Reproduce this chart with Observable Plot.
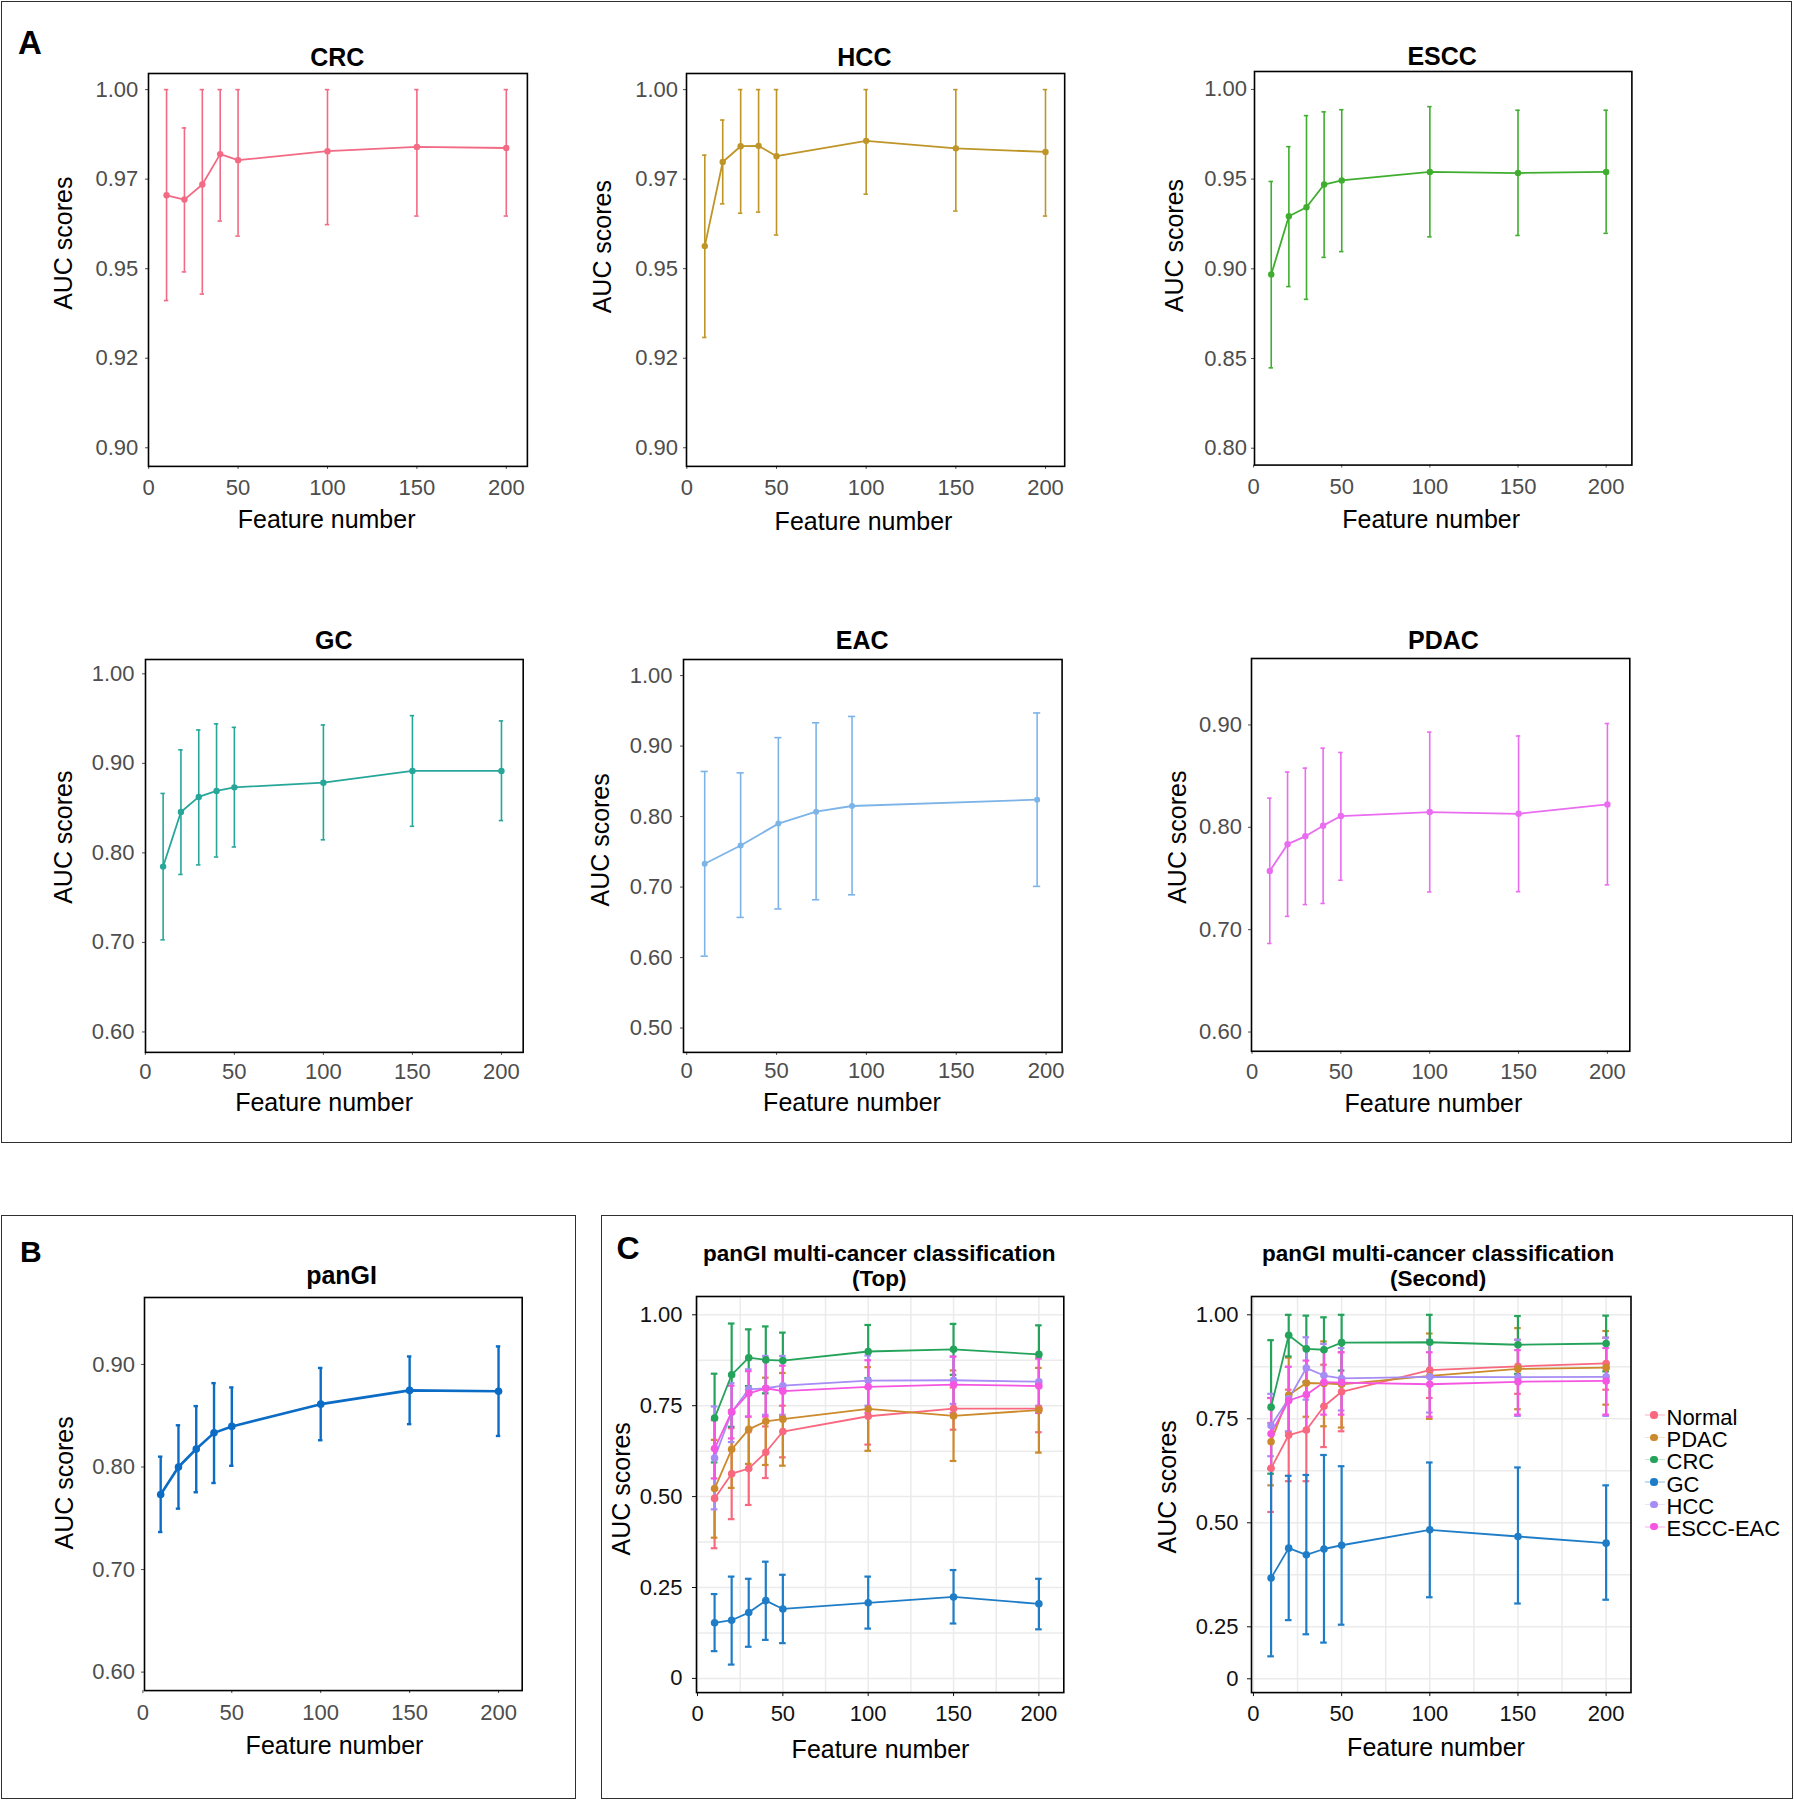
<!DOCTYPE html>
<html><head><meta charset="utf-8">
<script src="https://cdn.jsdelivr.net/npm/d3@7"></script>
<script src="https://cdn.jsdelivr.net/npm/@observablehq/plot@0.6"></script>
<style>
html,body{margin:0;padding:0;background:#fff;}
#root{position:relative;width:1794px;height:1800px;overflow:hidden;font-family:"Liberation Sans",Arial,Helvetica,sans-serif;}
.box{position:absolute;border:1.6px solid #303030;box-sizing:border-box;}
.letter{position:absolute;font-weight:bold;line-height:1;color:#000;}
.pw{position:absolute;}
.pw svg{display:block;overflow:visible;}
.leg{position:absolute;font-size:22px;line-height:21px;height:21px;color:#000;white-space:nowrap;}
</style></head><body><div id="root"></div>
<script>
// ---------------- DATA ----------------
const featureNumber = [10, 20, 30, 40, 50, 100, 150, 200];
const eacFeatureNumber = [10, 30, 51, 72, 92, 195];

const crcMean  = [0.9705, 0.9693, 0.9735, 0.9820, 0.9803, 0.9828, 0.9840, 0.9837];
const crcLower = [0.9411, 0.9491, 0.9429, 0.9633, 0.9591, 0.9623, 0.9647, 0.9647];
const crcUpper = [1.0000, 0.9893, 1.0000, 1.0000, 1.0000, 1.0000, 1.0000, 1.0000];

const hccMean  = [0.9563, 0.9798, 0.9842, 0.9843, 0.9814, 0.9857, 0.9836, 0.9826];
const hccLower = [0.9308, 0.9681, 0.9655, 0.9658, 0.9594, 0.9708, 0.9661, 0.9647];
const hccUpper = [0.9817, 0.9915, 1.0000, 1.0000, 1.0000, 1.0000, 1.0000, 1.0000];

const esccMean  = [0.8969, 0.9293, 0.9343, 0.9470, 0.9493, 0.9540, 0.9534, 0.9540];
const esccLower = [0.8448, 0.8901, 0.8830, 0.9064, 0.9096, 0.9178, 0.9186, 0.9198];
const esccUpper = [0.9487, 0.9681, 0.9854, 0.9875, 0.9887, 0.9904, 0.9884, 0.9884];

const gcMean  = [0.7847, 0.8457, 0.8625, 0.8692, 0.8732, 0.8784, 0.8915, 0.8915];
const gcLower = [0.7029, 0.7759, 0.7866, 0.7954, 0.8066, 0.8146, 0.8297, 0.8361];
const gcUpper = [0.8664, 0.9151, 0.9373, 0.9441, 0.9402, 0.9429, 0.9533, 0.9474];

const eacMean  = [0.733, 0.759, 0.790, 0.807, 0.815, 0.824];
const eacLower = [0.602, 0.657, 0.669, 0.682, 0.689, 0.701];
const eacUpper = [0.864, 0.862, 0.912, 0.933, 0.942, 0.947];

const pdacMean  = [0.7574, 0.7835, 0.7912, 0.8016, 0.8110, 0.8149, 0.8132, 0.8223];
const pdacLower = [0.6865, 0.7130, 0.7245, 0.7256, 0.7483, 0.7368, 0.7371, 0.7438];
const pdacUpper = [0.8285, 0.8540, 0.8578, 0.8773, 0.8731, 0.8930, 0.8892, 0.9014];

const panGIMean  = [0.7732, 0.8000, 0.8176, 0.8333, 0.8396, 0.8613, 0.8747, 0.8739];
const panGILower = [0.7366, 0.7594, 0.7754, 0.7844, 0.8012, 0.8261, 0.8418, 0.8303];
const panGIUpper = [0.8101, 0.8407, 0.8594, 0.8818, 0.8776, 0.8966, 0.9078, 0.9176];

const classNames = ["Normal", "PDAC", "CRC", "GC", "HCC", "ESCC-EAC"];

// C (Top)
const topNormalMean  = [0.495, 0.563, 0.577, 0.622, 0.679, 0.721, 0.742, 0.742];
const topNormalLower = [0.358, 0.438, 0.477, 0.551, 0.608, 0.643, 0.684, 0.677];
const topNormalUpper = [0.632, 0.688, 0.677, 0.693, 0.750, 0.800, 0.800, 0.807];
const topPdacMean  = [0.522, 0.630, 0.685, 0.707, 0.713, 0.741, 0.722, 0.738];
const topPdacLower = [0.387, 0.524, 0.590, 0.587, 0.585, 0.626, 0.598, 0.621];
const topPdacUpper = [0.656, 0.737, 0.780, 0.827, 0.840, 0.856, 0.847, 0.854];
const topCrcMean  = [0.716, 0.835, 0.882, 0.876, 0.874, 0.899, 0.905, 0.891];
const topCrcLower = [0.594, 0.692, 0.804, 0.784, 0.796, 0.826, 0.835, 0.810];
const topCrcUpper = [0.838, 0.976, 0.960, 0.968, 0.951, 0.972, 0.975, 0.971];
const topGcMean  = [0.153, 0.160, 0.181, 0.214, 0.191, 0.208, 0.224, 0.205];
const topGcLower = [0.075, 0.038, 0.087, 0.106, 0.097, 0.137, 0.151, 0.135];
const topGcUpper = [0.232, 0.280, 0.274, 0.321, 0.285, 0.280, 0.298, 0.274];
const topHccMean  = [0.606, 0.732, 0.795, 0.798, 0.805, 0.819, 0.820, 0.816];
const topHccLower = [0.465, 0.650, 0.720, 0.725, 0.725, 0.750, 0.755, 0.750];
const topHccUpper = [0.748, 0.812, 0.850, 0.887, 0.887, 0.888, 0.885, 0.880];
const topEsccEacMean  = [0.632, 0.733, 0.784, 0.798, 0.790, 0.802, 0.808, 0.804];
const topEsccEacLower = [0.550, 0.660, 0.720, 0.720, 0.720, 0.730, 0.730, 0.730];
const topEsccEacUpper = [0.710, 0.805, 0.845, 0.875, 0.860, 0.875, 0.885, 0.880];

// C (Second)
const secNormalMean  = [0.631, 0.711, 0.723, 0.780, 0.815, 0.867, 0.876, 0.883];
const secNormalLower = [0.526, 0.600, 0.600, 0.682, 0.720, 0.800, 0.810, 0.820];
const secNormalUpper = [0.740, 0.820, 0.840, 0.880, 0.910, 0.935, 0.940, 0.945];
const secPdacMean  = [0.695, 0.807, 0.836, 0.835, 0.833, 0.853, 0.870, 0.873];
const secPdacLower = [0.590, 0.718, 0.755, 0.732, 0.729, 0.750, 0.773, 0.784];
const secPdacUpper = [0.800, 0.897, 0.920, 0.936, 0.935, 0.955, 0.968, 0.961];
const secCrcMean  = [0.778, 0.951, 0.918, 0.916, 0.933, 0.934, 0.928, 0.931];
const secCrcLower = [0.618, 0.900, 0.838, 0.837, 0.866, 0.868, 0.858, 0.864];
const secCrcUpper = [0.939, 1.000, 0.998, 0.994, 1.000, 1.000, 0.997, 0.998];
const secGcMean  = [0.367, 0.439, 0.423, 0.437, 0.446, 0.483, 0.467, 0.451];
const secGcLower = [0.179, 0.266, 0.232, 0.212, 0.255, 0.321, 0.306, 0.315];
const secGcUpper = [0.631, 0.613, 0.615, 0.663, 0.636, 0.645, 0.633, 0.590];
const secHccMean  = [0.734, 0.798, 0.872, 0.854, 0.847, 0.851, 0.850, 0.851];
const secHccLower = [0.660, 0.720, 0.796, 0.780, 0.770, 0.765, 0.757, 0.757];
const secHccUpper = [0.810, 0.875, 0.946, 0.930, 0.920, 0.940, 0.940, 0.945];
const secEsccEacMean  = [0.714, 0.794, 0.808, 0.838, 0.837, 0.833, 0.839, 0.841];
const secEsccEacLower = [0.630, 0.710, 0.720, 0.760, 0.760, 0.755, 0.760, 0.760];
const secEsccEacUpper = [0.800, 0.875, 0.890, 0.915, 0.910, 0.910, 0.915, 0.920];

// tick values and labels
const xTickValues = [0, 50, 100, 150, 200];
const xTickLabels = ["0", "50", "100", "150", "200"];
const tick975Values = [0.9, 0.925, 0.95, 0.975, 1.0];
const tick975Labels = ["0.90", "0.92", "0.95", "0.97", "1.00"];
const tick80Values = [0.8, 0.85, 0.9, 0.95, 1.0];
const tick80Labels = ["0.80", "0.85", "0.90", "0.95", "1.00"];
const tick60Values = [0.6, 0.7, 0.8, 0.9, 1.0];
const tick60Labels = ["0.60", "0.70", "0.80", "0.90", "1.00"];
const tick50Values = [0.5, 0.6, 0.7, 0.8, 0.9, 1.0];
const tick50Labels = ["0.50", "0.60", "0.70", "0.80", "0.90", "1.00"];
const tick6090Values = [0.6, 0.7, 0.8, 0.9];
const tick6090Labels = ["0.60", "0.70", "0.80", "0.90"];
const tickTopValues = [0, 0.25, 0.5, 0.75, 1.0];
const tickTopLabels = ["0", "0.25", "0.50", "0.75", "1.00"];
const tickSecValues = [0.125, 0.25, 0.5, 0.75, 1.0];
const tickSecLabels = ["0", "0.25", "0.50", "0.75", "1.00"];
const gridXValues = [0, 25, 50, 75, 100, 125, 150, 175, 200];
const gridTopYValues = [0, 0.125, 0.25, 0.375, 0.5, 0.625, 0.75, 0.875, 1.0];
const gridSecYValues = [0.125, 0.25, 0.375, 0.5, 0.625, 0.75, 0.875, 1.0];

// ---------------- STYLE / LAYOUT ----------------
const FONT = '"Liberation Sans", Arial, Helvetica, sans-serif';
const colors = {
  crc: "#F26A84", hcc: "#BE9527", escc: "#3FAE2E", gc: "#27A69A", eac: "#7DB4E8", pdac: "#EA6CF0", panGI: "#0B6CC6",
  Normal: "#F8697F", PDAC: "#CC8A2C", CRC: "#24A35A", GC: "#1F7DC8", HCC: "#A68CF5", "ESCC-EAC": "#F456E2"
};
const styleA = {tickColor: "#4d4d4d", r: 3.2, lineW: 1.8, barW: 1.6, cap: 2.2, tickSize: 3, tickFont: 22};
const styleB = {tickColor: "#4d4d4d", r: 3.8, lineW: 2.6, barW: 2.4, cap: 2.2, tickSize: 3, tickFont: 22};
const styleC = {tickColor: "#111111", r: 3.8, lineW: 1.8, barW: 2.2, cap: 3.3, tickSize: 4, tickFont: 22};

const root = document.getElementById("root");

function addBox(x0, y0, x1, y1) {
  const d = document.createElement("div");
  d.className = "box";
  d.style.left = (x0 - 0.8) + "px"; d.style.top = (y0 - 0.8) + "px";
  d.style.width = (x1 - x0 + 1.6) + "px"; d.style.height = (y1 - y0 + 1.6) + "px";
  root.appendChild(d);
}
function addLetter(t, x, baseline, size) {
  const d = document.createElement("div");
  d.className = "letter"; d.textContent = t;
  d.style.fontSize = size + "px";
  d.style.left = x + "px"; d.style.top = (baseline - 0.8465 * size) + "px";
  root.appendChild(d);
}

function series(x, mean, lower, upper, color) {
  return x.map((v, i) => ({x: v, m: mean[i], lo: lower[i], hi: upper[i], color}));
}

function drawPanel(L, data, S) {
  const [x0, y0, x1, y1] = L.frame;
  const mL = 125, mR = 25, mT = 80, mB = 80;
  const fw = x1 - x0, fh = y1 - y0;
  const W = fw + mL + mR, H = fh + mT + mB;
  const capX = S.cap * (L.xDomain[1] - L.xDomain[0]) / fw;
  const fcx = (x0 + x1) / 2, fcy = (y0 + y1) / 2;
  const marks = [];
  if (L.gridX) {
    marks.push(Plot.gridX({ticks: L.gridX, stroke: "#ebebeb", strokeOpacity: 1, strokeWidth: 1.5}));
    marks.push(Plot.gridY({ticks: L.gridY, stroke: "#ebebeb", strokeOpacity: 1, strokeWidth: 1.5}));
  }
  for (const rows of data) {
    const c = rows[0].color;
    marks.push(Plot.ruleX(rows, {x: "x", y1: "lo", y2: "hi", stroke: c, strokeWidth: S.barW}));
    marks.push(Plot.ruleY(rows, {y: "lo", x1: d => d.x - capX, x2: d => d.x + capX, stroke: c, strokeWidth: S.barW}));
    marks.push(Plot.ruleY(rows, {y: "hi", x1: d => d.x - capX, x2: d => d.x + capX, stroke: c, strokeWidth: S.barW}));
  }
  for (const rows of data) {
    marks.push(Plot.line(rows, {x: "x", y: "m", stroke: rows[0].color, strokeWidth: S.lineW}));
  }
  for (const rows of data) {
    marks.push(Plot.dot(rows, {x: "x", y: "m", fill: rows[0].color, r: S.r}));
  }
  marks.push(Plot.axisX({ticks: xTickValues, tickFormat: d => xTickLabels[xTickValues.indexOf(d)],
    tickSize: S.tickSize, tickPadding: (L.xGap || 12) - S.tickSize, fontSize: S.tickFont, color: S.tickColor, label: null}));
  marks.push(Plot.axisY({ticks: L.yTicks, tickFormat: d => L.yLabels[L.yTicks.indexOf(d)],
    tickSize: S.tickSize, tickPadding: L.yGap - S.tickSize, fontSize: S.tickFont, color: S.tickColor, label: null}));
  marks.push(Plot.frame({stroke: "#000", strokeWidth: 1.6}));
  // titles
  L.title.forEach((t, i) => {
    marks.push(Plot.text([t], {text: d => d, frameAnchor: "top", lineAnchor: "bottom", textAnchor: "middle",
      dx: L.titlePos[0] - fcx, dy: L.titlePos[1 + i] - y0, fontSize: L.titleSize || 25, fontWeight: "bold", fill: "#000"}));
  });
  marks.push(Plot.text(["Feature number"], {text: d => d, frameAnchor: "bottom", lineAnchor: "bottom", textAnchor: "middle",
    dx: L.xTitle[0] - fcx, dy: L.xTitle[1] - y1, fontSize: 25, fill: "#000"}));
  marks.push(Plot.text(["AUC scores"], {text: d => d, frameAnchor: "left", lineAnchor: "bottom", textAnchor: "middle", rotate: -90,
    dx: L.yTitle[0] - x0, dy: L.yTitle[1] - fcy, fontSize: 25, fill: "#000"}));

  const svg = Plot.plot({
    width: W, height: H, marginLeft: mL, marginRight: mR, marginTop: mT, marginBottom: mB,
    x: {domain: L.xDomain, label: null}, y: {domain: L.yDomain, label: null},
    style: {background: "transparent", overflow: "visible", fontFamily: FONT, maxWidth: "none"},
    marks
  });
  const wrap = document.createElement("div");
  wrap.className = "pw";
  wrap.style.left = (x0 - mL) + "px"; wrap.style.top = (y0 - mT) + "px";
  wrap.style.width = W + "px"; wrap.style.height = H + "px";
  wrap.appendChild(svg);
  root.appendChild(wrap);
}

// boxes and panel letters
addBox(2, 2, 1791.5, 1141.8);
addBox(1.9, 1215.3, 575.2, 1797.8);
addBox(601.5, 1215.3, 1791.8, 1797.8);
addLetter("A", 18, 53.6, 33);
addLetter("B", 20, 1262.4, 30);
addLetter("C", 616.5, 1259.3, 32);

// Panel A
drawPanel({frame: [148.1, 73.2, 527.0, 466.1], xDomain: [-0.1, 211.8], yDomain: [0.8948, 1.0045],
  yTicks: tick975Values, yLabels: tick975Labels, yGap: 10.3, xGap: 12.5,
  title: ["CRC"], titlePos: [336.8, 66.1], xTitle: [326.2, 527.9], yTitle: [71.6, 242.9]},
  [series(featureNumber, crcMean, crcLower, crcUpper, colors.crc)], styleA);

drawPanel({frame: [685.7, 73.2, 1063.9, 466.1], xDomain: [-0.2, 210.7], yDomain: [0.8948, 1.0045],
  yTicks: tick975Values, yLabels: tick975Labels, yGap: 8.5, xGap: 12.5,
  title: ["HCC"], titlePos: [863.6, 66.1], xTitle: [862.7, 529.6], yTitle: [610, 246.4]},
  [series(featureNumber, hccMean, hccLower, hccUpper, colors.hcc)], styleA);

drawPanel({frame: [1254, 71.4, 1631.4, 465], xDomain: [0.5, 214.6], yDomain: [0.7906, 1.0100],
  yTicks: tick80Values, yLabels: tick80Labels, yGap: 7.5, xGap: 13.5,
  title: ["ESCC"], titlePos: [1441.6, 65.4], xTitle: [1430.7, 527.9], yTitle: [1182, 245.5]},
  [series(featureNumber, esccMean, esccLower, esccUpper, colors.escc)], styleA);

drawPanel({frame: [145.4, 658.9, 523.1, 1051.8], xDomain: [0.1, 212.2], yDomain: [0.5772, 1.016],
  yTicks: tick60Values, yLabels: tick60Labels, yGap: 11, xGap: 11,
  title: ["GC"], titlePos: [333.7, 648.2], xTitle: [324, 1110.7], yTitle: [71.9, 836.6]},
  [series(featureNumber, gcMean, gcLower, gcUpper, colors.gc)], styleA);

drawPanel({frame: [682.5, 658.9, 1061.1, 1051.8], xDomain: [-1.8, 208.9], yDomain: [0.4655, 1.0228],
  yTicks: tick50Values, yLabels: tick50Labels, yGap: 11, xGap: 10,
  title: ["EAC"], titlePos: [861.1, 648.2], xTitle: [851, 1110.7], yTitle: [608.2, 839.3]},
  [series(eacFeatureNumber, eacMean, eacLower, eacUpper, colors.eac)], {...styleA, cap: 3.6, r: 3});

drawPanel({frame: [1250.5, 657.9, 1628.8, 1050.7], xDomain: [-0.3, 212.6], yDomain: [0.5812, 0.9649],
  yTicks: tick6090Values, yLabels: tick6090Labels, yGap: 9.6, xGap: 12.5,
  title: ["PDAC"], titlePos: [1442.5, 648.2], xTitle: [1432.4, 1111.4], yTitle: [1185, 836.6]},
  [series(featureNumber, pdacMean, pdacLower, pdacUpper, colors.pdac)], styleA);

// Panel B
drawPanel({frame: [143.5, 1296.8, 521.2, 1689.9], xDomain: [0.9, 213.3], yDomain: [0.582, 0.9653],
  yTicks: tick6090Values, yLabels: tick6090Labels, yGap: 9.5, xGap: 14,
  title: ["panGI"], titlePos: [340.6, 1283.4], xTitle: [333.5, 1753], yTitle: [71.6, 1482.2]},
  [series(featureNumber, panGIMean, panGILower, panGIUpper, colors.panGI)], styleB);

// Panel C
const topData = [
  series(featureNumber, topNormalMean, topNormalLower, topNormalUpper, colors.Normal),
  series(featureNumber, topPdacMean, topPdacLower, topPdacUpper, colors.PDAC),
  series(featureNumber, topCrcMean, topCrcLower, topCrcUpper, colors.CRC),
  series(featureNumber, topGcMean, topGcLower, topGcUpper, colors.GC),
  series(featureNumber, topHccMean, topHccLower, topHccUpper, colors.HCC),
  series(featureNumber, topEsccEacMean, topEsccEacLower, topEsccEacUpper, colors["ESCC-EAC"])
];
const secData = [
  series(featureNumber, secNormalMean, secNormalLower, secNormalUpper, colors.Normal),
  series(featureNumber, secPdacMean, secPdacLower, secPdacUpper, colors.PDAC),
  series(featureNumber, secCrcMean, secCrcLower, secCrcUpper, colors.CRC),
  series(featureNumber, secGcMean, secGcLower, secGcUpper, colors.GC),
  series(featureNumber, secHccMean, secHccLower, secHccUpper, colors.HCC),
  series(featureNumber, secEsccEacMean, secEsccEacLower, secEsccEacUpper, colors["ESCC-EAC"])
];
drawPanel({frame: [696, 1295.7, 1063.3, 1691.8], xDomain: [-0.6, 214.6], yDomain: [-0.039, 1.0503],
  yTicks: tickTopValues, yLabels: tickTopLabels, yGap: 14, xGap: 12.6, gridX: gridXValues, gridY: gridTopYValues,
  title: ["panGI multi-cancer classification", "(Top)"], titlePos: [878.8, 1260.5, 1285], titleSize: 22.5,
  xTitle: [880, 1756.8], yTitle: [629.3, 1488]}, topData, styleC);

drawPanel({frame: [1250.5, 1295.7, 1630, 1691.8], xDomain: [-1.1, 214.1], yDomain: [0.0918, 1.044],
  yTicks: tickSecValues, yLabels: tickSecLabels, yGap: 13, xGap: 12.6, gridX: gridXValues, gridY: gridSecYValues,
  title: ["panGI multi-cancer classification", "(Second)"], titlePos: [1437.1, 1260.5, 1285], titleSize: 22.5,
  xTitle: [1435, 1755], yTitle: [1175.4, 1486]}, secData, styleC);

// Legend
classNames.forEach((name, i) => {
  const cy = 1415 + i * 22.35;
  const c = colors[name];
  const line = document.createElement("div");
  line.style.cssText = `position:absolute;left:1645px;top:${cy - 0.75}px;width:20px;height:1.5px;background:${c};opacity:0.25;`;
  root.appendChild(line);
  const dot = document.createElement("div");
  dot.style.cssText = `position:absolute;left:${1654 - 3.6}px;top:${cy - 3.6}px;width:7.2px;height:7.2px;border-radius:50%;background:${c};`;
  root.appendChild(dot);
  const t = document.createElement("div");
  t.className = "leg"; t.textContent = name;
  t.style.left = "1666.5px"; t.style.top = (cy - 8.5) + "px";
  root.appendChild(t);
});
</script></body></html>
